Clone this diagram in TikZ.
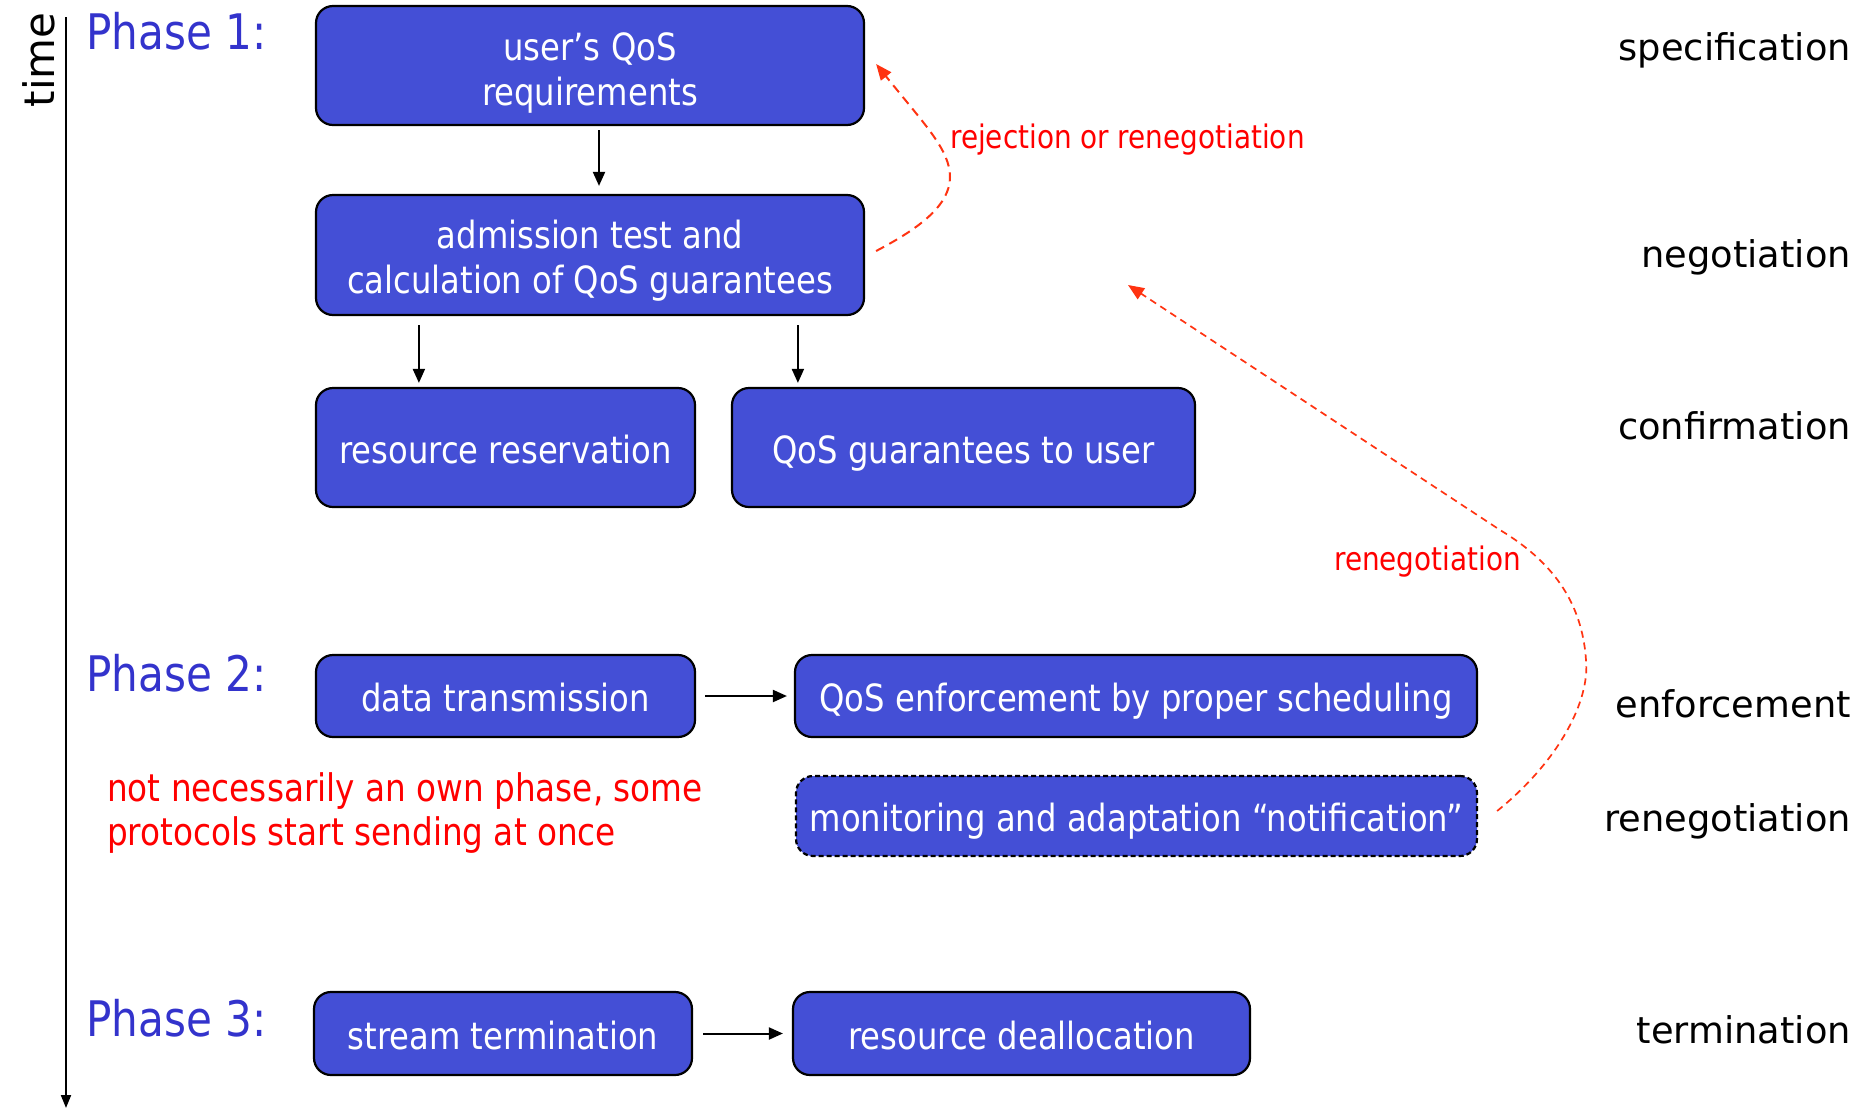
\documentclass[tikz,border=0pt]{standalone}
\usepackage{fontspec}
\usetikzlibrary{arrows.meta,calc}
\newfontfamily\tahf[FakeStretch=0.86]{DejaVu Sans}
\newfontfamily\verdf{DejaVu Sans}
\definecolor{boxblue}{RGB}{68,79,214}
\definecolor{phaseblue}{RGB}{51,51,204}
\definecolor{curvered}{RGB}{255,51,17}
\begin{document}
\begin{tikzpicture}[x=1pt,y=-1pt,
  qbox/.style={draw=black, line width=2.2pt, fill=boxblue, rounded corners=17pt,
    text=white, font=\tahf\fontsize{37.5}{45}\selectfont, align=center, inner sep=0pt},
  oneline/.style={text height=36pt, text depth=5pt},
  dbox/.style={qbox, dash pattern=on 5pt off 3pt},
  phase/.style={text=phaseblue, font=\tahf\fontsize{49}{52}\selectfont, inner sep=0pt},
  stage/.style={text=black, font=\verdf\fontsize{36.8}{42}\selectfont, inner sep=0pt},
  note/.style={text=red, font=\tahf\fontsize{38}{44}\selectfont, inner sep=0pt, align=left},
  rlabel/.style={text=red, font=\tahf\fontsize{32.4}{36}\selectfont, inner sep=0pt},
  arr/.style={draw=black, line width=2pt, -{Triangle[length=14pt,width=12pt]}},
  redarr/.style={draw=curvered, line width=2pt, -{Triangle[length=16pt,width=13pt]}}
]
\useasboundingbox (0,0) rectangle (1872,1109);

% time axis
\coordinate (ttop) at (66,17);
\coordinate (tbot) at (66,1108);
\draw[line width=2pt, -{Triangle[length=13pt,width=10pt]}] (ttop) -- (tbot);
\node[font=\verdf\fontsize{42}{44}\selectfont, rotate=90, inner sep=0pt] (time) at (39,60) {time};

% phase labels
\node[phase, anchor=base west] (p1) at (86,49) {Phase 1:};
\node[phase, anchor=base west] (p2) at (86,691) {Phase 2:};
\node[phase, anchor=base west] (p3) at (86,1036) {Phase 3:};

% boxes
\node[qbox, minimum width=548pt, minimum height=119pt] (b1) at (590,65.5) {\rule{0pt}{42pt}user’s QoS\\requirements};
\node[qbox, minimum width=548pt, minimum height=120pt] (b2) at (590,255) {\rule{0pt}{40pt}admission test and\\calculation of QoS guarantees};
\node[qbox, oneline, minimum width=379pt, minimum height=119pt] (b3) at (505.5,447.5) {resource reservation};
\node[qbox, oneline, minimum width=463pt, minimum height=119pt] (b4) at (963.5,447.5) {QoS guarantees to user};
\node[qbox, oneline, minimum width=379pt, minimum height=82pt] (b5) at (505.5,696) {data transmission};
\node[qbox, oneline, minimum width=682pt, minimum height=82pt] (b6) at (1136,696) {QoS enforcement by proper scheduling};
\node[dbox, oneline, minimum width=681pt, minimum height=80pt] (b7) at (1136.5,816) {monitoring and adaptation “notification”};
\node[qbox, oneline, minimum width=378pt, minimum height=83pt] (b8) at (503,1033.5) {stream termination};
\node[qbox, oneline, minimum width=457pt, minimum height=83pt] (b9) at (1021.5,1033.5) {resource deallocation};

% note
\node[note, anchor=base west] (nt) at (107,845) {not necessarily an own phase, some\\protocols start sending at once};

% stage labels
\node[stage, anchor=base east] (s1) at (1851,60.5) {specification};
\node[stage, anchor=base east] (s2) at (1851,267.5) {negotiation};
\node[stage, anchor=base east] (s3) at (1851,439.5) {confirmation};
\node[stage, anchor=base east] (s4) at (1851,717.5) {enforcement};
\node[stage, anchor=base east] (s5) at (1851,831.5) {renegotiation};
\node[stage, anchor=base east] (s6) at (1851,1043.5) {termination};

% black arrows
\draw[arr, shorten <=4pt, shorten >=8pt] ([xshift=9pt]b1.south) -- ([xshift=9pt]b2.north);
\draw[arr, shorten <=9pt, shorten >=4pt] ([xshift=104pt]b2.south west) -- ([xshift=104pt]b3.north west);
\draw[arr, shorten <=9pt, shorten >=4pt] ([xshift=483pt]b2.south west) -- ([xshift=67pt]b4.north west);
\draw[arr, shorten <=9pt, shorten >=7pt] (b5.east) -- (b6.west);
\draw[arr, shorten <=10pt, shorten >=9pt] (b8.east) -- (b9.west);

% red dashed feedback arrows
\draw[redarr, dash pattern=on 9pt off 6pt]
  ([shift={(11,-4)}]b2.east) .. controls (920,228) and (950,205) .. (950,177)
  .. controls (950,150) and (925,125) .. ([shift={(11,-1.5)}]b1.east);
\node[rlabel, anchor=base west] (l1) at (950,148) {rejection or renegotiation};

\coordinate (rtip) at (1128,285);
\draw[redarr, line width=1.7pt, dash pattern=on 7pt off 5pt]
  ([shift={(19,-5)}]b7.east) .. controls (1560,760) and (1590,700) .. (1586,660)
  .. controls (1582,600) and (1550,560) .. (1500,530) -- (rtip);
\node[rlabel, anchor=base east] (l2) at (1521,570) {renegotiation};
\end{tikzpicture}
\end{document}
